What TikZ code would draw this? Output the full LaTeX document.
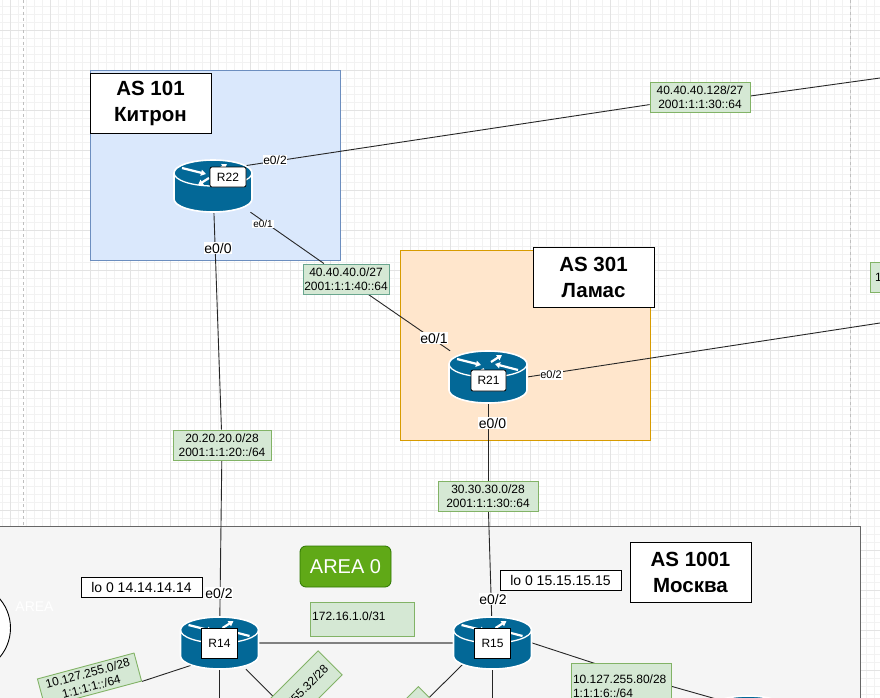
\documentclass[tikz,border=0pt]{standalone}
\usepackage{fontspec}
\setmainfont{Liberation Sans}
\usetikzlibrary{calc,arrows.meta}
\pgfdeclarelayer{under}
\pgfdeclarelayer{edges}
\pgfsetlayers{under,edges,main}
\definecolor{routerblue}{HTML}{036897}
\definecolor{greenfill}{HTML}{D5E8D4}
\definecolor{greenline}{HTML}{82B366}
\newcommand{\fsz}[2]{\fontsize{#1}{#2}\selectfont}
\newcommand{\routericon}[2]{%
  \begin{scope}[shift={(#1,#2)},y=1pt]
    \path[fill=routerblue,draw=white,line width=1.6pt]
      (-39,13) arc[start angle=180,end angle=0,x radius=39,y radius=13]
      -- (39,-13) arc[start angle=0,end angle=-180,x radius=39,y radius=13] -- cycle;
    \draw[white,line width=1.3pt] (-39,13) arc[start angle=180,end angle=360,x radius=39,y radius=13];
    \draw[white,line width=2.2pt,-{Triangle[width=6pt,length=5pt]}] (-31,18) -- (-7,12);
    \draw[white,line width=2.2pt,-{Triangle[width=6pt,length=5pt]}] (-4,8) -- (-15,1);
    \draw[white,line width=2.2pt,-{Triangle[width=6pt,length=5pt]}] (3,15) -- (14,22);
    \draw[white,line width=2.2pt,-{Triangle[width=6pt,length=5pt]}] (30,7) -- (7,13);
  \end{scope}}
\tikzset{
  x=1pt,y=-1pt,
  routerspot/.style={minimum width=78pt,minimum height=52pt,inner sep=0pt},
  net/.style={fill=greenfill,draw=greenline,line width=0.9pt,font=\fsz{12}{14},align=center,inner sep=0pt,minimum width=100pt,minimum height=30pt},
  port/.style={fill=white,inner sep=0.8pt,font=\fsz{14}{16}},
  portsm/.style={fill=white,inner sep=0.8pt,font=\fsz{11}{13}},
  asbox/.style={fill=white,draw=black,line width=0.8pt,font=\bfseries\fsz{20.5}{26},align=center,inner sep=0pt,minimum width=121pt,minimum height=60pt},
  lobox/.style={fill=white,draw=black,line width=0.8pt,font=\fsz{14}{16},inner sep=0pt,minimum width=121pt,minimum height=20pt},
  rtag/.style={fill=white,draw=black,line width=0.8pt,font=\fsz{12}{14},inner sep=0pt},
  link/.style={draw=black!85,line width=0.9pt}
}
\begin{document}
\begin{tikzpicture}
\useasboundingbox (0,0) rectangle (880,698);
\clip (0,0) rectangle (880,698);
\begin{pgfonlayer}{under}
\fill[white] (0,0) rectangle (880,698);
\foreach \k in {0,...,110} {\draw[black!5,line width=0.6pt] (\k*8+2,0) -- (\k*8+2,698);}
\foreach \k in {0,...,88} {\draw[black!5,line width=0.6pt] (0,\k*8-2) -- (880,\k*8-2);}
\foreach \k in {0,...,21} {\draw[black!11,line width=0.8pt] (\k*40+10,0) -- (\k*40+10,698);}
\foreach \k in {0,...,17} {\draw[black!11,line width=0.8pt] (0,\k*40+30) -- (880,\k*40+30);}
\draw[black!25,dashed,line width=0.8pt] (23.5,0) -- (23.5,698);
\draw[black!25,dashed,line width=0.8pt] (850,0) -- (850,698);
\node[fill={rgb,255:red,218;green,232;blue,252},draw={rgb,255:red,108;green,142;blue,191},line width=0.8pt,inner sep=0pt,minimum width=250pt,minimum height=190pt] (as101area) at (215,165) {};
\node[fill={rgb,255:red,255;green,230;blue,204},draw={rgb,255:red,215;green,155;blue,0},line width=0.8pt,inner sep=0pt,minimum width=250.5pt,minimum height=190pt] (as301area) at (525.5,345) {};
\node[fill={rgb,255:red,245;green,245;blue,245},draw={rgb,255:red,102;green,102;blue,102},line width=0.9pt,inner sep=0pt,minimum width=900pt,minimum height=260pt] (as1001area) at (410,656) {};
\end{pgfonlayer}
% circle
\node[circle,fill=white,draw=black,line width=0.9pt,minimum size=90pt,inner sep=0pt] (areacircle) at (-34.5,628) {};
\node[text=white,font=\fsz{14}{16},inner sep=0pt] (areatext) at (34.5,607) {AREA};
% router positions
\node[routerspot] (r22) at (213,186) {};
\node[routerspot] (r21) at (488,377) {};
\node[routerspot] (r14) at (219.5,643) {};
\node[routerspot] (r15) at (492.5,643) {};
\node[routerspot] (rlast) at (748,722) {};
% far ends
\coordinate (farA) at (880,78);
\coordinate (farB) at (880,323);
\coordinate (farC) at (219.5,720);
\coordinate (farD) at (492.5,720);
% network boxes
\node[net] (n1) at (700,97) {40.40.40.128/27\\2001:1:1:30::64};
\node[net,minimum width=86pt,draw={rgb,255:red,106;green,166;blue,143}] (n2) at (346,279) {40.40.40.0/27\\2001:1:1:40::64};
\node[net,minimum width=98pt] (n3) at (222,445) {20.20.20.0/28\\2001:1:1:20::/64};
\node[net] (n4) at (488,496) {30.30.30.0/28\\2001:1:1:30::64};
\node[net,minimum width=30pt,text width=20pt,align=left] (n5) at (885,277) {1};
\node[net,minimum width=104pt,minimum height=34pt] (n6) at (362,619) {};
\node[font=\fsz{12}{14},inner sep=0pt,anchor=west] (n6t) at (312,616) {172.16.1.0/31};
\node[net,rotate=15,minimum width=100pt,minimum height=29pt] (n7) at (89.5,680) {10.127.255.0/28\\1:1:1:1::/64};
\node[net,rotate=45,minimum width=105pt,minimum height=34pt] (n8) at (293,700) {10.127.255.32/28};
\node[net,rotate=45] (n9) at (393.6,732.6) {};
\node[font=\fsz{12}{14},inner sep=0pt,rotate=45,anchor=east] (n9t) at (427,701) {/28};
\node[net,minimum height=46pt,text width=96pt,align=left] (n10) at (621,686) {10.127.255.80/28\\1:1:1:6::/64};
% connectors
\begin{pgfonlayer}{edges}
\begin{scope}[link]
\draw ($(r22)+(17,-18)$) -- (n1);
\draw (n1.east |- 0,96) -- (farA);
\draw (r22) -- (n2);
\draw (n2) -- (r21);
\draw (r22) -- (n3);
\draw (n3) -- (r14);
\draw ($(r21)+(0,6)$) -- (farB);
\draw (r21) -- (n4);
\draw (n4) -- (r15);
\draw ($(r14)+(0,13)$) -- (n7.south east);
\draw (r14) -- ($(n8.center)+(0,16)$);
\draw (r14) -- (farC);
\draw ($(r15)+(0,-8)$) -- (n9);
\draw ($(r15)+(0,-13)$) -- ($(n10)+(0,-14)$);
\draw ($(n10)+(0,-14)$) -- ($(rlast)+(0,-14)$);
\draw (r15) -- (farD);
\end{scope}
\draw[black!50,line width=2pt] (r14) -- (r15);
\end{pgfonlayer}
% router icons
\routericon{213}{186}
\routericon{488}{377}
\routericon{219.5}{643}
\routericon{492.5}{643}
\routericon{748}{722}
\node[rtag,rounded corners=2pt,minimum width=36pt,minimum height=20pt] (t22) at (228,177) {R22};
\node[rtag,rounded corners=2pt,minimum width=35pt,minimum height=21pt] (t21) at (488.5,380.5) {R21};
\node[rtag,line width=1.1pt,minimum width=36pt,minimum height=30pt] (t14) at (219.5,643.5) {R14};
\node[rtag,line width=1.1pt,minimum width=36pt,minimum height=30pt] (t15) at (492.5,643.5) {R15};
% port labels
\node[portsm,font=\fsz{12}{14}] at (275,160) {e0/2};
\node[portsm,font=\fsz{10}{12}] at (263,224) {e0/1};
\node[port] at (218,248) {e0/0};
\node[port] at (434,338) {e0/1};
\node[portsm] at (551,375) {e0/2};
\node[port] at (492.5,423) {e0/0};
\node[port] at (219,593) {e0/2};
\node[port] at (493,599) {e0/2};
% titles
\node[asbox] (as101) at (150.5,103) {AS 101\\Китрон};
\node[asbox] (as301) at (593.5,277) {AS 301\\Ламас};
\node[asbox] (as1001) at (690.5,572) {AS 1001\\Москва};
\node[lobox] (lo14) at (141.5,587) {lo 0 14.14.14.14};
\node[lobox] (lo15) at (560.5,580.5) {lo 0 15.15.15.15};
\node[fill={rgb,255:red,96;green,169;blue,23},draw={rgb,255:red,45;green,118;blue,0},line width=0.8pt,rounded corners=6pt,text=white,font=\fsz{20}{24},inner sep=0pt,minimum width=91pt,minimum height=41pt] (area0) at (345.5,566.5) {AREA 0};
\end{tikzpicture}
\end{document}
